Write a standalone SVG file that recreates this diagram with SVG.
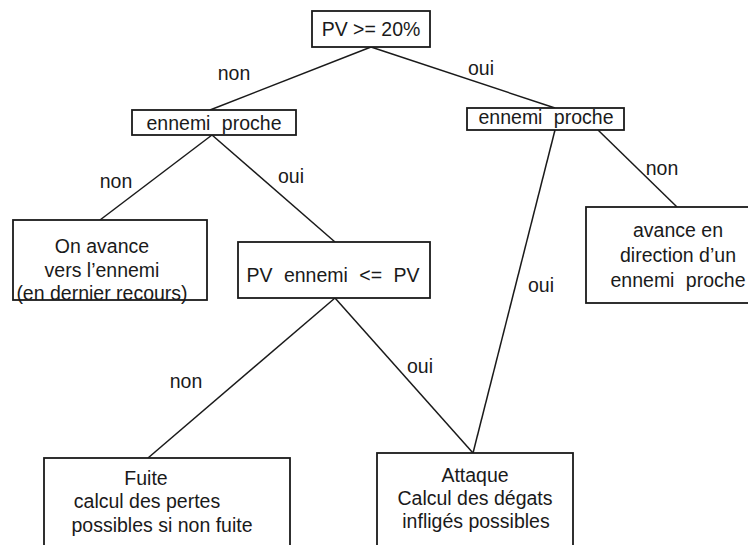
<svg xmlns="http://www.w3.org/2000/svg" width="748" height="545" viewBox="0 0 748 545">
<style>
.box{fill:#fff;stroke:#1a1a1a;stroke-width:1.8}
.ln{stroke:#1a1a1a;stroke-width:1.5;fill:none}
text{font-family:"Liberation Sans","DejaVu Sans",sans-serif;font-size:19.5px;fill:#1a1a1a;text-anchor:middle}
.ws{word-spacing:6px}
</style>
<rect width="748" height="545" fill="#fff"/>
<g id="connectors">
<line class="ln" x1="371" y1="47" x2="210" y2="110"/>
<line class="ln" x1="371" y1="47" x2="555" y2="108"/>
<line class="ln" x1="212" y1="135" x2="100" y2="220"/>
<line class="ln" x1="212" y1="135" x2="335" y2="242"/>
<line class="ln" x1="598" y1="130" x2="677" y2="207"/>
<line class="ln" x1="555" y1="130" x2="473" y2="453"/>
<line class="ln" x1="335" y1="298" x2="148" y2="458"/>
<line class="ln" x1="335" y1="298" x2="473" y2="453"/>
<text x="234" y="80">non</text>
<text x="481" y="75">oui</text>
<text x="116" y="188">non</text>
<text x="291" y="183">oui</text>
<text x="662" y="175">non</text>
<text x="541" y="292">oui</text>
<text x="186" y="388">non</text>
<text x="420" y="373">oui</text>
</g>
<g id="root"><rect class="box" x="312" y="11" width="118" height="36"/><text x="371" y="36">PV &gt;= 20%</text></g>
<g id="left-proche"><rect class="box" x="132" y="110" width="164" height="25"/><text x="214" y="130" class="ws">ennemi proche</text></g>
<g id="right-proche"><rect class="box" x="467" y="108" width="157" height="22"/><text x="546" y="124" class="ws">ennemi proche</text></g>
<g id="avance-ennemi"><rect class="box" x="13" y="220" width="194" height="80"/><text x="102" y="253">On avance</text><text x="102" y="277">vers l’ennemi</text><text x="102" y="300">(en dernier recours)</text></g>
<g id="pv-compare"><rect class="box" x="238" y="242" width="192" height="56"/><text x="333" y="282" class="ws">PV ennemi &lt;= PV</text></g>
<g id="avance-direction"><rect class="box" x="586" y="207" width="170" height="96"/><text x="678" y="237">avance en</text><text x="678" y="262">direction d’un</text><text x="678" y="287" class="ws">ennemi proche</text></g>
<g id="fuite"><rect class="box" x="44" y="458" width="246" height="100"/><text x="146" y="485">Fuite</text><text x="147" y="508">calcul des pertes</text><text x="162" y="532">possibles si non fuite</text></g>
<g id="attaque"><rect class="box" x="377" y="453" width="196" height="105"/><text x="475" y="482">Attaque</text><text x="475" y="505">Calcul des dégats</text><text x="476" y="528">infligés possibles</text></g>
</svg>
